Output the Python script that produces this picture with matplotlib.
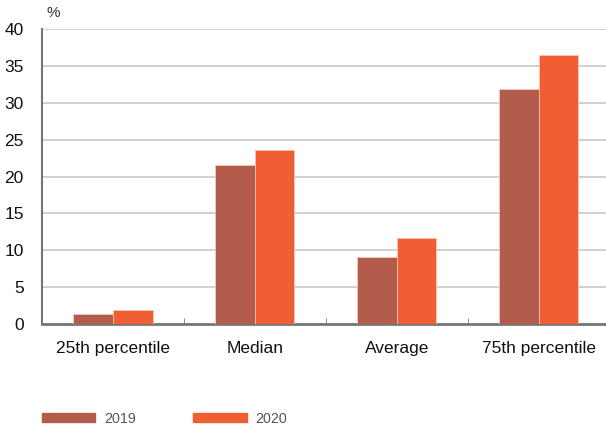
import matplotlib.pyplot as plt
import numpy as np
from matplotlib.patches import Patch

plt.rcParams['font.family'] = ['Liberation Sans', 'DejaVu Sans']

# dados
categorias = ['25th percentile', 'Median', 'Average', '75th percentile']
anos = ['2019', '2020']
valores_2019 = [1.4, 21.6, 9.1, 31.9]
valores_2020 = [1.9, 23.6, 11.7, 36.4]
cores = ['#B35C4B', '#F05E33']

fig = plt.figure(figsize=(6.06, 4.30), dpi=100)
ax = fig.add_axes([0.069, 0.246, 0.937, 0.687])

x = np.arange(len(categorias))
w = 0.28
ax.bar(x - w / 2, valores_2019, w, color=cores[0], edgecolor='#F3C9BE', linewidth=0.6, zorder=3)
ax.bar(x + w / 2, valores_2020, w, color=cores[1], edgecolor='#F9C2AF', linewidth=0.6, zorder=3)

ax.set_xlim(-0.5, 3.5)
ax.set_ylim(0, 40)
ax.set_yticks(range(0, 41, 5))
ax.yaxis.grid(True, color='#C8C8C8', linewidth=1.2, zorder=0)
ax.set_axisbelow(True)

# ticks do eixo x nas divisões entre categorias
ax.set_xticks(x)
ax.set_xticklabels(categorias, fontsize=12.5, color='#111111')
ax.set_xticks([0.5, 1.5, 2.5], minor=True)
ax.tick_params(axis='x', which='major', length=0, pad=12)
ax.tick_params(axis='x', which='minor', direction='in', length=4, color='#777777')
ax.tick_params(axis='y', length=0, labelsize=12.5, labelcolor='#111111', pad=13)

for s in ['top', 'right']:
    ax.spines[s].set_visible(False)
ax.spines['left'].set_color('#777777')
ax.spines['left'].set_linewidth(1.5)
ax.spines['bottom'].set_color('#777777')
ax.spines['bottom'].set_linewidth(2)

fig.text(0.077, 0.97, '%', fontsize=11, color='#333333', va='center')

handles = [Patch(color=c) for c in cores]
fig.legend(handles, anos, loc='center left', bbox_to_anchor=(0.069, 0.026), ncol=2,
           frameon=False, handlelength=3.75, handleheight=0.6, handletextpad=0.6,
           columnspacing=4.0, fontsize=10.3, labelcolor='#555555',
           borderpad=0, borderaxespad=0)

fig.savefig('out.png', dpi=100)
